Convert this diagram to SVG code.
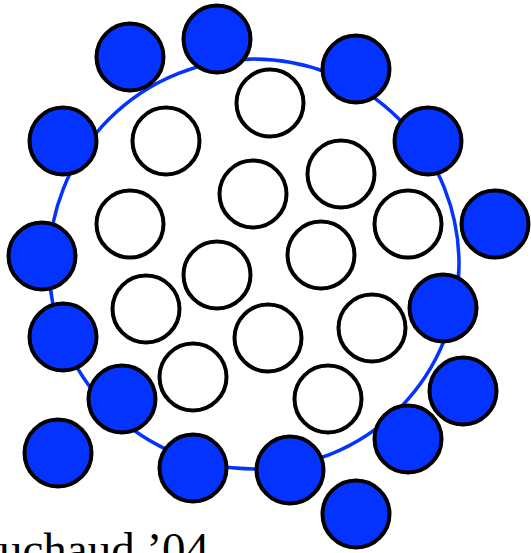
<svg xmlns="http://www.w3.org/2000/svg" width="531" height="553" viewBox="0 0 531 553">
<style>
.ring{fill:none;stroke:#0433ff;stroke-width:3.5}
.w{fill:#ffffff;stroke:#000;stroke-width:4}
.b{fill:#0433ff;stroke:#000;stroke-width:4}
.lbl{font-family:"Liberation Serif","Times New Roman",serif;font-size:47px;fill:#000}
</style>
<rect width="531" height="553" fill="#fff"/>
<circle id="ring" class="ring" cx="254" cy="264" r="205"/>
<g id="inner">
<circle class="w" cx="270" cy="103" r="33.5"/>
<circle class="w" cx="166" cy="141" r="33.5"/>
<circle class="w" cx="341" cy="174" r="33.5"/>
<circle class="w" cx="253" cy="194" r="33.5"/>
<circle class="w" cx="130" cy="224" r="33.5"/>
<circle class="w" cx="408" cy="224" r="33.5"/>
<circle class="w" cx="321" cy="255" r="33.5"/>
<circle class="w" cx="217" cy="275" r="33.5"/>
<circle class="w" cx="146" cy="309" r="33.5"/>
<circle class="w" cx="372" cy="328" r="33.5"/>
<circle class="w" cx="268" cy="338" r="33.5"/>
<circle class="w" cx="193" cy="377" r="33.5"/>
<circle class="w" cx="328" cy="399" r="33.5"/>
</g>
<g id="outer">
<circle class="b" cx="130" cy="57" r="33.5"/>
<circle class="b" cx="217" cy="39" r="33.5"/>
<circle class="b" cx="63" cy="141" r="33.5"/>
<circle class="b" cx="42" cy="256" r="33.5"/>
<circle class="b" cx="356" cy="69" r="33.5"/>
<circle class="b" cx="428" cy="141" r="33.5"/>
<circle class="b" cx="495" cy="224" r="33.5"/>
<circle class="b" cx="443" cy="308" r="33.5"/>
<circle class="b" cx="463" cy="391" r="33.5"/>
<circle class="b" cx="408" cy="439" r="33.5"/>
<circle class="b" cx="290" cy="470" r="33.5"/>
<circle class="b" cx="356" cy="514" r="33.5"/>
<circle class="b" cx="193" cy="468" r="33.5"/>
<circle class="b" cx="122" cy="399" r="33.5"/>
<circle class="b" cx="63" cy="337" r="33.5"/>
<circle class="b" cx="58" cy="453" r="33.5"/>
</g>
<text class="lbl" x="-1" y="565">uchaud ’04</text>
</svg>
